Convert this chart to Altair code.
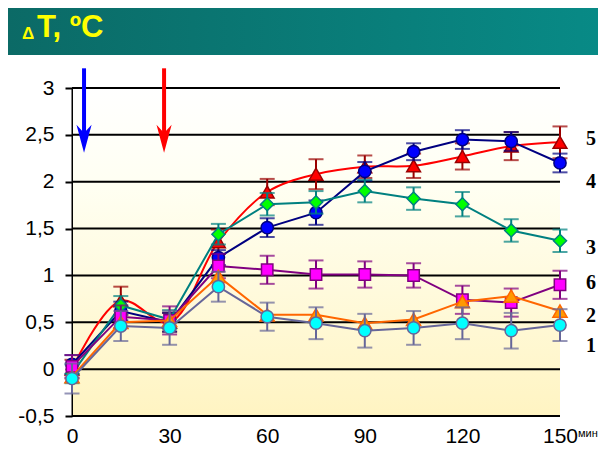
import altair as alt
import pandas as pd

# ---------------- data ----------------
minutes = [0, 15, 30, 45, 60, 75, 90, 105, 120, 135, 150]

s1 = [-0.10, 0.46, 0.44, 0.88, 0.56, 0.49, 0.41, 0.44, 0.49, 0.41, 0.47]
e1 = [0.16, 0.16, 0.18, 0.16, 0.15, 0.17, 0.18, 0.18, 0.17, 0.19, 0.17]
s2 = [-0.08, 0.50, 0.52, 0.99, 0.58, 0.58, 0.49, 0.53, 0.72, 0.78, 0.62]
s3 = [-0.05, 0.68, 0.53, 1.44, 1.76, 1.78, 1.90, 1.82, 1.76, 1.48, 1.37]
e3 = [0.10, 0.10, 0.10, 0.11, 0.12, 0.12, 0.12, 0.12, 0.13, 0.12, 0.12]
s4 = [0.05, 0.62, 0.50, 1.19, 1.51, 1.67, 2.11, 2.32, 2.45, 2.43, 2.20]
e4 = [0.10, 0.10, 0.10, 0.08, 0.10, 0.13, 0.10, 0.09, 0.10, 0.10, 0.10]
s5 = [0.00, 0.73, 0.50, 1.36, 1.89, 2.08, 2.16, 2.17, 2.27, 2.38, 2.42]
e5 = [0.10, 0.15, 0.10, 0.13, 0.14, 0.16, 0.12, 0.13, 0.14, 0.15, 0.17]
s6 = [0.03, 0.56, 0.52, 1.10, 1.06, 1.01, 1.01, 1.00, 0.74, 0.71, 0.90]
e6 = [0.12, 0.12, 0.15, 0.13, 0.15, 0.15, 0.14, 0.13, 0.15, 0.15, 0.15]

y_ticks = [-0.5, 0, 0.5, 1, 1.5, 2, 2.5, 3]
x_ticks = [0, 30, 60, 90, 120, 150]

series_labels = ["5", "4", "3", "6", "2", "1"]
series_label_y = [2.46, 2.00, 1.29, 0.92, 0.57, 0.25]

arrow_t = [3.7, 28.3]
arrow_top = 3.21
arrow_tip = 2.31

# ---------------- styling ----------------
W, H = 488, 328
xs = alt.Scale(domain=[0, 150], nice=False, zero=False)
ys = alt.Scale(domain=[-0.5, 3], nice=False, zero=False)

x_axis = alt.Axis(values=x_ticks, grid=False, domain=False, ticks=False, tickSize=0,
                  labelFont="Liberation Sans", labelFontSize=21, labelColor="black",
                  labelPadding=9, title=None, labelFlush=False)
y_axis = alt.Axis(values=y_ticks, grid=False, domain=True, domainColor="black", domainWidth=2,
                  ticks=True, tickColor="black", tickWidth=2, tickSize=7,
                  labelFont="Liberation Sans", labelFontSize=21, labelColor="black",
                  labelPadding=11, title=None,
                  labelExpr="replace(toString(datum.value), '.', ',')")


def X(field):
    return alt.X(field, type="quantitative", scale=xs, axis=x_axis)


def Y(field):
    return alt.Y(field, type="quantitative", scale=ys, axis=y_axis)


one = pd.DataFrame({"a": [0]})

# background gradient of plot area
bg = alt.Chart(one).mark_rect(
    color=alt.LinearGradient(
        gradient="linear", x1=0, x2=0, y1=0, y2=1,
        stops=[alt.GradientStop(color="#FFFFFF", offset=0),
               alt.GradientStop(color="#FFFFF2", offset=0.3),
               alt.GradientStop(color="#FFF4C2", offset=1)])
).encode(x=alt.value(1), x2=alt.value(W), y=alt.value(0), y2=alt.value(H))

# header band
header = alt.Chart(one).mark_rect(
    color=alt.LinearGradient(
        gradient="linear", x1=0, x2=1, y1=0, y2=0,
        stops=[alt.GradientStop(color="#0B6A66", offset=0),
               alt.GradientStop(color="#088A86", offset=1)])
).encode(x=alt.value(-64), x2=alt.value(526), y=alt.value(-80), y2=alt.value(-33))

title_d = alt.Chart(one).mark_text(text="Δ", font="Liberation Sans", fontWeight="bold",
                                   fontSize=17, color="#FFFF00", align="left",
                                   baseline="alphabetic").encode(x=alt.value(-50), y=alt.value(-49))
title_t = alt.Chart(one).mark_text(text="T, ºC", font="Liberation Sans", fontWeight="bold",
                                   fontSize=31, color="#FFFF00", align="left",
                                   baseline="alphabetic").encode(x=alt.value(-35), y=alt.value(-51))

grid = alt.Chart(pd.DataFrame({"v": y_ticks})).mark_rule(color="black", strokeWidth=2).encode(y=Y("v"))

styles = [
    ("5", s5, e5, dict(line="#FF0000", fill="#FF0000", stroke="#990000", err="#990000",
                       shape="triangle-up", size=190, interp="catmull-rom")),
    ("4", s4, e4, dict(line="#000080", fill="#0000FF", stroke="#000080", err="#000080",
                       shape="circle", size=150, interp="linear")),
    ("3", s3, e3, dict(line="#008080", fill="#00FF00", stroke="#008080", err="#008080",
                       shape="diamond", size=170, interp="linear")),
    ("6", s6, e6, dict(line="#800080", fill="#FF00FF", stroke="#800080", err="#800080",
                       shape="square", size=130, interp="linear")),
    ("2", s2, None, dict(line="#FF6600", fill="#FF9900", stroke="#FF6600", err=None,
                         shape="triangle-up", size=200, interp="linear")),
    ("1", s1, e1, dict(line="#666699", fill="#00FFFF", stroke="#666699", err="#666699",
                       shape="circle", size=150, interp="linear")),
]

layers = [bg, grid, header, title_d, title_t]

for name, vals, errs, st in styles:
    df = pd.DataFrame({"t": minutes, "v": vals})
    base = alt.Chart(df)
    if errs is not None:
        df["lo"] = [v - e for v, e in zip(vals, errs)]
        df["hi"] = [v + e for v, e in zip(vals, errs)]
        base = alt.Chart(df)
        layers.append(base.mark_rule(color=st["err"], strokeWidth=2).encode(
            x=X("t"), y=Y("lo"), y2="hi"))
        layers.append(base.mark_tick(color=st["err"], thickness=2, size=15,
                                     orient="horizontal").encode(x=X("t"), y=Y("lo")))
        layers.append(base.mark_tick(color=st["err"], thickness=2, size=15,
                                     orient="horizontal").encode(x=X("t"), y=Y("hi")))
    layers.append(base.mark_line(color=st["line"], strokeWidth=2,
                                 interpolate=st["interp"]).encode(x=X("t"), y=Y("v")))
    layers.append(base.mark_point(shape=st["shape"], size=st["size"], filled=True,
                                  fill=st["fill"], stroke=st["stroke"], strokeWidth=1.5,
                                  opacity=1).encode(x=X("t"), y=Y("v")))

# arrows
arr = pd.DataFrame({"t": arrow_t, "top": [arrow_top] * 2, "tip": [arrow_tip] * 2,
                    "c": ["#0000FF", "#FF0000"]})
arr["shaft_end"] = arr["tip"] + 0.16
layers.append(alt.Chart(arr).mark_rule(strokeWidth=4).encode(
    x=X("t"), y=Y("top"), y2="shaft_end", color=alt.Color("c:N", scale=None)))
layers.append(alt.Chart(arr).mark_point(
    shape="M-0.54,-2L0,-1.4L0.54,-2L0,0Z", size=784, filled=True, opacity=1, strokeWidth=0
).encode(x=X("t"), y=Y("tip"), color=alt.Color("c:N", scale=None)))

# right-hand series labels
lab = pd.DataFrame({"lab": series_labels, "ly": series_label_y})
layers.append(alt.Chart(lab).mark_text(font="Liberation Serif", fontWeight="bold", fontSize=20,
                                       align="left", baseline="middle", color="black").encode(
    x=alt.value(514), y=Y("ly"), text="lab:N"))

# unit after x axis
layers.append(alt.Chart(one).mark_text(text="мин", font="Liberation Sans", fontSize=11,
                                       align="left", baseline="middle", color="black").encode(
    x=alt.value(506), y=alt.value(346)))

chart = alt.layer(*layers).properties(
    width=W, height=H,
    padding={"left": 64, "top": 80, "right": 38, "bottom": 32},
    autosize=alt.AutoSizeParams(type="none"),
    background="white",
).configure_view(stroke=None)

chart.save("out.html", embed_options={"renderer": "svg", "actions": False})
